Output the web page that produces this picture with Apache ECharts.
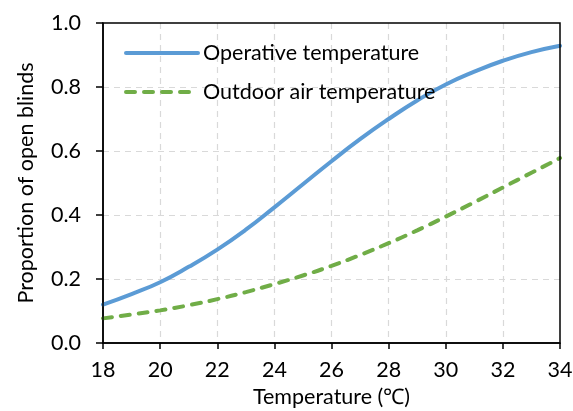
<!DOCTYPE html>
<html>
<head>
<meta charset="utf-8">
<script src="https://cdn.jsdelivr.net/npm/echarts@6/dist/echarts.min.js"></script>
<style>
html,body{margin:0;padding:0;background:#fff;}
#chart{width:573px;height:411px;}
</style>
</head>
<body>
<div id="chart"></div>
<script>
const temperatures = [18,19,20,21,22,23,24,25,26,27,28,29,30,31,32,33,34];
const operative = [0.120,0.153,0.190,0.238,0.292,0.354,0.424,0.496,0.568,0.637,0.700,0.758,0.808,0.848,0.882,0.909,0.929];
const outdoor = [0.077,0.089,0.102,0.118,0.137,0.159,0.184,0.211,0.241,0.275,0.312,0.352,0.395,0.440,0.486,0.532,0.578];
const seriesNames = ['Operative temperature','Outdoor air temperature'];
const xTitle = 'Temperature (℃)';
const yTitle = 'Proportion of open blinds';

const FONT = 'Lato, "Open Sans", sans-serif';
const FS = 21.5;
const chart = echarts.init(document.getElementById('chart'), null, {renderer:'canvas'});
const pair = (xs, ys) => xs.map((x,i)=>[x, ys[i]]);
const grid = {color:'#D9D9D9',type:[6,5],width:1.2};
chart.setOption({
  animation:false,
  backgroundColor:'#fff',
  grid:{left:103,right:13,top:23,bottom:68,show:true,borderColor:'#000',borderWidth:1.5,backgroundColor:'transparent',z:10,
        containLabel:false,outerBoundsMode:'none'},
  legend:{
    orient:'vertical', left:119, top:37, itemWidth:72, itemHeight:14, itemGap:17,
    textStyle:{fontFamily:FONT,fontSize:FS,color:'#000',padding:[0,0,0,0]},
    itemStyle:{opacity:0},
    lineStyle:{width:4,cap:'round'},
    data:seriesNames
  },
  xAxis:{
    type:'value', min:18, max:34, interval:2,
    name:xTitle, nameLocation:'middle', nameGap:43,
    nameTextStyle:{fontFamily:FONT,fontSize:FS,color:'#000'},
    axisLine:{show:true,lineStyle:{color:'#000',width:1.5}},
    axisTick:{show:true,inside:false,length:6,lineStyle:{color:'#000',width:1.5}},
    axisLabel:{fontFamily:FONT,fontSize:FS,color:'#000',margin:16},
    splitLine:{show:true,showMinLine:false,showMaxLine:false,lineStyle:grid}
  },
  yAxis:{
    type:'value', min:0, max:1, interval:0.2,
    name:yTitle, nameLocation:'middle', nameGap:66, nameRotate:90,
    nameTextStyle:{fontFamily:FONT,fontSize:FS,color:'#000'},
    axisLine:{show:true,lineStyle:{color:'#000',width:1.5}},
    axisTick:{show:true,inside:false,length:7,lineStyle:{color:'#000',width:1.5}},
    axisLabel:{fontFamily:FONT,fontSize:FS,color:'#000',margin:22,formatter:v=>v.toFixed(1)},
    splitLine:{show:true,showMinLine:false,showMaxLine:false,lineStyle:grid}
  },
  series:[
    {name:seriesNames[0],type:'line',data:pair(temperatures,operative),smooth:true,showSymbol:false,symbol:'none',
     lineStyle:{color:'#5B9BD5',width:4,cap:'round'},itemStyle:{color:'#5B9BD5'}},
    {name:seriesNames[1],type:'line',data:pair(temperatures,outdoor),smooth:true,showSymbol:false,symbol:'none',
     lineStyle:{color:'#70AD47',width:4,type:[9,9],cap:'round'},itemStyle:{color:'#70AD47'}}
  ]
});
</script>
</body>
</html>
